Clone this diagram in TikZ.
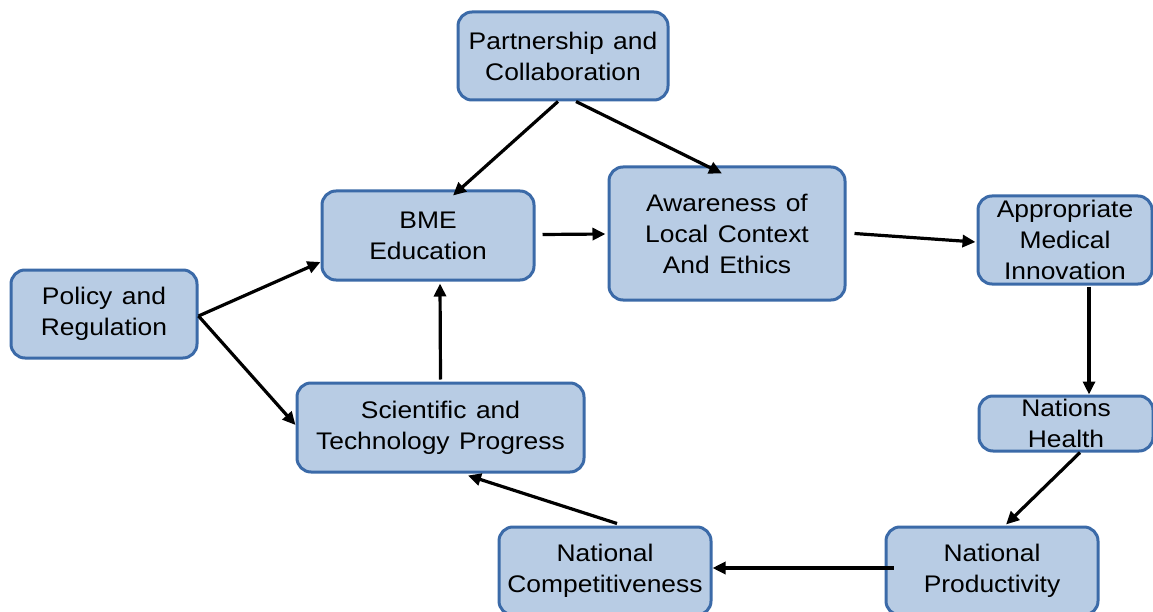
\documentclass[tikz,border=0pt]{standalone}
\usepackage{fontspec}
\setmainfont[FakeStretch=1.1, WordSpace=1.3]{Liberation Sans}
\usetikzlibrary{arrows.meta}
\definecolor{boxfill}{HTML}{B8CCE4}
\definecolor{boxline}{HTML}{3B6AA8}
\tikzset{
  block/.style={draw=boxline, fill=boxfill, line width=3pt, rounded corners=14pt,
    align=center, inner sep=0pt, font=\fontsize{24}{31}\selectfont},
  link/.style={line width=3.2pt, -{Triangle[length=13pt,width=12pt]}}
}
\begin{document}
\begin{tikzpicture}[x=1pt,y=-1pt]
\clip (0,0) rectangle (1153,612);
\fill[white] (0,0) rectangle (1153,612);

\node[block, minimum width=210pt, minimum height=88pt] (pc) at (563,56) {Partnership and\\Collaboration};
\node[block, minimum width=212pt, minimum height=89pt] (bme) at (428,235.5) {BME\\Education};
\node[block, minimum width=236pt, minimum height=133pt] (aw) at (727,233.5) {Awareness of\\Local Context\\And Ethics};
\node[block, minimum width=174pt, minimum height=88pt] (ami) at (1065,240) {Appropriate\\Medical\\Innovation};
\node[block, minimum width=186pt, minimum height=88pt] (pr) at (104,314) {Policy and\\Regulation};
\node[block, minimum width=287pt, minimum height=89pt] (stp) at (440.5,427.5) {Scientific and\\Technology Progress};
\node[block, minimum width=174pt, minimum height=55pt] (nh) at (1066,423.5) {Nations\\Health};
\node[block, minimum width=212pt, minimum height=88pt] (np) at (992,571) {National\\Productivity};
\node[block, minimum width=212pt, minimum height=88pt] (nc) at (605,571) {National\\Competitiveness};

\draw[link] ([shift={(-5,0)}]pc.south) -- ([shift={(25,6)}]bme.north);
\draw[link] ([shift={(13,0)}]pc.south) -- ([shift={(-5,8)}]aw.north);
\draw[link] ([shift={(7,-1)}]bme.east) -- ([shift={(-2,0.5)}]aw.west);
\draw[link] ([shift={(8,0)}]aw.east) -- ([shift={(-1,2)}]ami.west);
\draw[link] ([shift={(24,1)}]ami.south) -- ([shift={(23,0)}]nh.north);
\draw[link] ([shift={(14,0)}]nh.south) -- ([shift={(14,-1)}]np.north);
\draw[link] ([shift={(9,-3)}]np.west) -- ([shift={(0,-3)}]nc.east);
\draw[link] ([shift={(12,-2)}]nc.north) -- ([shift={(27.5,2)}]stp.south);
\draw[link] ([shift={(0,-2)}]stp.north) -- ([shift={(12,2)}]bme.south);
\draw[link] ([shift={(0,2)}]pr.east) -- ([shift={(0,26.5)}]bme.west);
\draw[link] ([shift={(0,2)}]pr.east) -- ([shift={(0,-2.5)}]stp.west);
\end{tikzpicture}
\end{document}
